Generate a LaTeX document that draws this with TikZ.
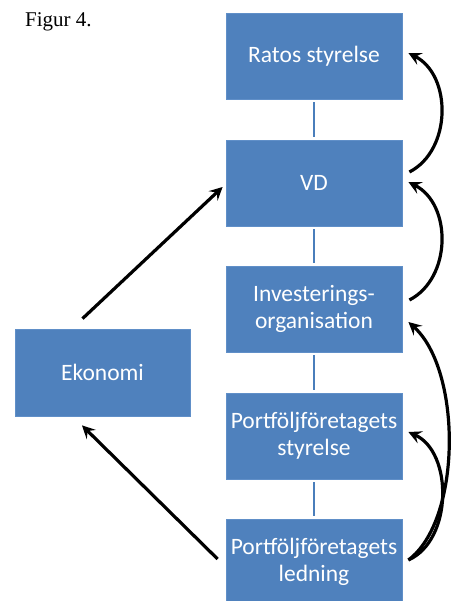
\documentclass[tikz,border=0pt]{standalone}
\usepackage{fontspec}
\setmainfont{Carlito}
\newfontfamily\captionfont{Liberation Serif}
\usetikzlibrary{arrows.meta}
\definecolor{boxblue}{RGB}{79,129,189}
\definecolor{boxedge}{RGB}{96,143,200}
\definecolor{linkblue}{RGB}{74,126,187}
\tikzset{
  orgbox/.style={rectangle, fill=boxblue, draw=boxedge, line width=0.8pt,
    minimum width=176pt, minimum height=86pt, inner sep=0pt,
    text=white, align=center, font=\fontsize{23.5}{27}\selectfont},
  link/.style={draw=linkblue, line width=2pt, shorten <=3pt, shorten >=3pt},
  flow/.style={draw=black, line width=3.2pt,
    -{Stealth[length=13pt,width=13pt,inset=5pt]}}
}
\begin{document}
\begin{tikzpicture}[x=1pt,y=-1pt]
  \useasboundingbox (0,0) rectangle (452,601);
  \begin{scope}
    \clip (0,0) rectangle (452,601);
    % title
    \node[anchor=base west, inner sep=0pt, font=\captionfont\fontsize{21}{24}\selectfont] (title) at (25,27) {Figur 4.};
    % chain of governance
    \node[orgbox] (ratos) at (314,56)  {Ratos styrelse};
    \node[orgbox] (vd)    at (314,183) {VD};
    \node[orgbox] (inv)   at (314,309) {Investerings-\\organisation};
    \node[orgbox] (ps)    at (314,436) {Portföljföretagets\\styrelse};
    \node[orgbox] (led)   at (314,562) {Portföljföretagets\\ledning};
    \node[orgbox, minimum width=175pt, minimum height=87pt] (eko) at (102.5,372.5) {Ekonomi};
    % vertical links
    \draw[link] (ratos.south) -- (vd.north);
    \draw[link] (vd.south) -- (inv.north);
    \draw[link] (inv.south) -- (ps.north);
    \draw[link] (ps.south) -- (led.north);
    % straight flows via Ekonomi
    \draw[flow] ([xshift=-20pt,yshift=10pt]eko.north) -- ([xshift=-3pt,yshift=-4pt]vd.west);
    \draw[flow] ([xshift=-8pt,yshift=3pt]led.west) -- ([xshift=-20.5pt,yshift=-9pt]eko.south);
    % curved reporting flows on the right
    \draw[flow] ([xshift=7pt,yshift=11pt]vd.east) .. controls (452,150) and (452,75) .. ([xshift=6pt,yshift=3pt]ratos.east);
    \draw[flow] ([xshift=7pt,yshift=9pt]inv.east) .. controls (452,278) and (452,204) .. ([xshift=6pt,yshift=1pt]vd.east);
    \draw[flow] ([xshift=6pt,yshift=2pt]led.east) .. controls (462,520) and (462,370) .. ([xshift=6pt,yshift=-13pt]inv.east);
    \draw[flow] ([xshift=6pt,yshift=2pt]led.east) .. controls (453,540) and (453,452) .. ([xshift=6pt,yshift=4pt]ps.east);
  \end{scope}
\end{tikzpicture}
\end{document}
